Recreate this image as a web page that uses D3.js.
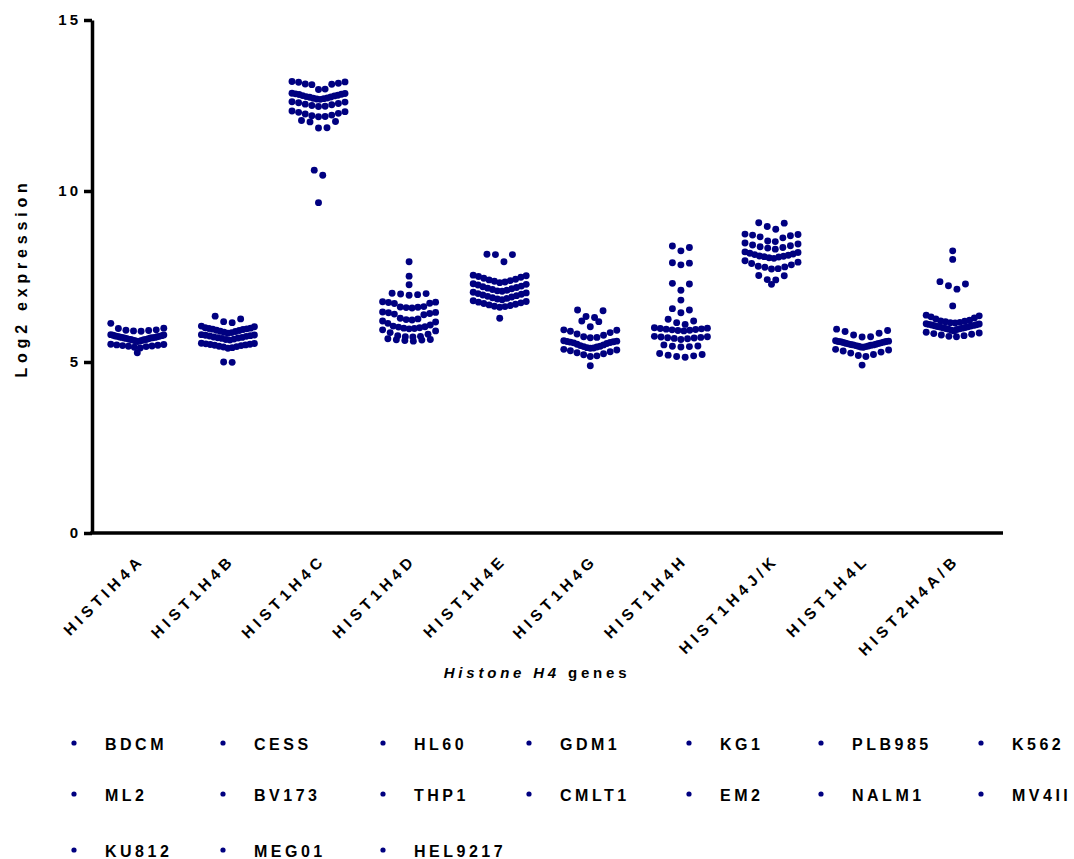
<!DOCTYPE html>
<html>
<head>
<meta charset="utf-8">
<script src="https://cdn.jsdelivr.net/npm/d3@7"></script>
<style>
  body { margin: 0; background: #fff; }
  svg { display: block; }
  text { font-family: "Liberation Sans", Arial, Helvetica, sans-serif; font-weight: bold; fill: #000; }
</style>
</head>
<body>
<svg id="chart" width="1074" height="859"></svg>
<script>
// Histone H4 genes on the x axis
const genes = ["HISTIH4A", "HIST1H4B", "HIST1H4C", "HIST1H4D", "HIST1H4E",
               "HIST1H4G", "HIST1H4H", "HIST1H4J/K", "HIST1H4L", "HIST2H4A/B"];

// Log2 expression values per gene (all cell lines and replicates)
const hist1h4a = [6.13, 5.99, 5.98, 5.94, 5.93, 5.92, 5.91, 5.90,
  5.80, 5.79, 5.78, 5.77, 5.76, 5.75, 5.75, 5.74, 5.73, 5.72, 5.72, 5.71, 5.70, 5.70,
  5.69, 5.68, 5.67, 5.66, 5.66, 5.65, 5.64, 5.63, 5.62, 5.61, 5.60,
  5.52, 5.51, 5.50, 5.49, 5.48, 5.47, 5.46, 5.45, 5.43, 5.41,
  5.27];
const hist1h4b = [6.34, 6.26, 6.18, 6.15,
  6.05, 6.03, 6.00, 5.99, 5.98, 5.97, 5.96, 5.95, 5.93, 5.92, 5.90, 5.89, 5.87, 5.86, 5.84,
  5.80, 5.79, 5.78, 5.77, 5.76, 5.75, 5.73, 5.72, 5.71, 5.70, 5.69, 5.67, 5.66, 5.64,
  5.55, 5.54, 5.53, 5.52, 5.51, 5.50, 5.49, 5.48, 5.46, 5.45, 5.44, 5.42, 5.40,
  5.00, 4.99];
const hist1h4c = [13.20, 13.19, 13.18, 13.15, 13.13, 13.12, 13.11, 12.98, 12.97,
  12.86, 12.85, 12.84, 12.83, 12.82, 12.80, 12.79, 12.78, 12.76, 12.75, 12.74, 12.72, 12.71, 12.70, 12.69, 12.68,
  12.61, 12.60, 12.58, 12.56, 12.54, 12.52, 12.50, 12.48, 12.47,
  12.34, 12.32, 12.30, 12.27, 12.25, 12.22, 12.20, 12.18, 12.17,
  12.06, 12.03, 12.02, 11.85, 11.84,
  10.61, 10.46, 9.66];
const hist1h4d = [7.93, 7.51, 7.26,
  7.01, 7.00, 6.99, 6.97, 6.95,
  6.76, 6.75, 6.74, 6.72, 6.71, 6.62, 6.61, 6.60, 6.59, 6.58,
  6.46, 6.45, 6.44, 6.42, 6.40, 6.38, 6.28, 6.26, 6.24, 6.23,
  6.20, 6.17, 6.13, 6.08, 6.05, 6.03, 6.02, 6.00, 5.99, 5.98, 5.97,
  5.94, 5.91, 5.86, 5.81, 5.77, 5.75, 5.74, 5.73,
  5.68, 5.66, 5.65, 5.64, 5.63, 5.61];
const hist1h4e = [8.15, 8.14, 8.14, 7.93,
  7.54, 7.52, 7.50, 7.48, 7.45, 7.42, 7.40, 7.38, 7.36, 7.34, 7.32,
  7.29, 7.27, 7.25, 7.22, 7.20, 7.18, 7.16, 7.14, 7.12, 7.10, 7.08, 7.07,
  7.04, 7.02, 7.00, 6.98, 6.96, 6.94, 6.92, 6.90, 6.88, 6.86, 6.84, 6.82,
  6.79, 6.77, 6.75, 6.73, 6.71, 6.69, 6.67, 6.65, 6.63, 6.62, 6.60,
  6.28];
const hist1h4g = [6.52, 6.50, 6.33, 6.30,
  6.20, 6.18, 6.03,
  5.94, 5.93, 5.90, 5.86, 5.82, 5.78, 5.74, 5.72, 5.71,
  5.62, 5.61, 5.60, 5.59, 5.58, 5.57, 5.56, 5.54, 5.52, 5.50, 5.48, 5.46, 5.45, 5.44, 5.42, 5.41, 5.40,
  5.37, 5.35, 5.33, 5.30, 5.27, 5.24, 5.21, 5.18, 5.16,
  4.89];
const hist1h4h = [8.39, 8.35, 8.25,
  7.90, 7.89, 7.84,
  7.30, 7.28, 7.10,
  6.81,
  6.56, 6.52, 6.44,
  6.25, 6.20, 6.15, 6.10,
  6.00, 5.99, 5.98, 5.97, 5.96, 5.95, 5.94, 5.93, 5.92, 5.91,
  5.75, 5.74, 5.73, 5.72, 5.71, 5.70, 5.69, 5.68, 5.66,
  5.50, 5.47, 5.46, 5.45, 5.44,
  5.25, 5.22, 5.20, 5.18, 5.16, 5.14];
const hist1h4jk = [9.07, 9.06, 8.96, 8.88,
  8.74, 8.73, 8.71, 8.69, 8.66, 8.63,
  8.54, 8.52, 8.48, 8.45, 8.42, 8.40, 8.37, 8.35, 8.33, 8.30,
  8.22, 8.20, 8.18, 8.16, 8.14, 8.12, 8.10, 8.09, 8.08, 8.07, 8.05, 8.03,
  7.96, 7.92, 7.88, 7.84, 7.80, 7.78, 7.77,
  7.73, 7.72, 7.53, 7.52,
  7.41, 7.40, 7.27];
const hist1h4l = [5.96, 5.92, 5.89, 5.84, 5.79, 5.74, 5.73,
  5.62, 5.61, 5.60, 5.60, 5.59, 5.58, 5.57, 5.56, 5.55, 5.54, 5.53, 5.52, 5.51, 5.50, 5.50,
  5.49, 5.48, 5.47, 5.46, 5.45, 5.44, 5.43,
  5.37, 5.35, 5.32, 5.29, 5.26, 5.22, 5.19, 5.16,
  4.91];
const hist2h4ab = [8.25, 8.00,
  7.35, 7.28, 7.23, 7.13,
  6.64,
  6.37, 6.35, 6.32, 6.29, 6.26, 6.22, 6.20, 6.19, 6.18, 6.16, 6.15, 6.14,
  6.12, 6.11, 6.10, 6.09, 6.08, 6.07, 6.06, 6.05, 6.04, 6.03, 6.02, 6.01, 6.00, 5.99, 5.98, 5.97,
  5.96, 5.95, 5.93, 5.91,
  5.87, 5.85, 5.83, 5.81, 5.79, 5.77, 5.75, 5.74];

const expression = [hist1h4a, hist1h4b, hist1h4c, hist1h4d, hist1h4e,
                    hist1h4g, hist1h4h, hist1h4jk, hist1h4l, hist2h4ab];

// Cell lines listed in the legend
const cellLines = ["BDCM", "CESS", "HL60", "GDM1", "KG1", "PLB985", "K562",
                   "ML2", "BV173", "THP1", "CMLT1", "EM2", "NALM1", "MV4II",
                   "KU812", "MEG01", "HEL9217"];

const yTicks = [0, 5, 10, 15];

const DOT = "#000080";
const svg = d3.select("#chart");

const x = d3.scaleBand().domain(genes).range([92, 998]).padding(0);
const y = d3.scaleLinear().domain([0, 15]).range([533, 20]);

// ---- scatter columns: points grouped into rows, spread sideways ----
const ROW_SPAN = 0.24;   // value range sharing one row
const STEP = 8.5;        // horizontal spacing between neighbours
const MAX_W = 53;        // widest a row may spread (centre to centre)

function swarm(values, cx) {
  const sorted = values.slice().sort((a, b) => b - a);
  const rows = [];
  let cur = null;
  sorted.forEach(v => {
    if (!cur || cur.top - v > ROW_SPAN + 1e-9) { cur = { top: v, vals: [] }; rows.push(cur); }
    cur.vals.push(v);
  });
  const pts = [];
  rows.forEach(r => {
    const vals = r.vals.slice().sort((a, b) => a - b);
    const n = vals.length;
    const s = n > 1 ? Math.min(STEP, MAX_W / (n - 1)) : 0;
    const slots = d3.range(n).map(i => i - (n - 1) / 2)
      .sort((a, b) => Math.abs(a) - Math.abs(b) || b - a);
    vals.forEach((v, i) => pts.push({ v, px: cx + slots[i] * s }));
  });
  return pts;
}

const cols = svg.append("g").attr("class", "columns");
genes.forEach((g, gi) => {
  const cx = x(g) + x.bandwidth() / 2;
  cols.append("g").selectAll("circle")
    .data(swarm(expression[gi], cx))
    .join("circle")
    .attr("cx", d => d.px)
    .attr("cy", d => y(d.v))
    .attr("r", 3.45)
    .attr("fill", DOT);
});

// ---- axes ----
const yAxis = svg.append("g")
  .attr("transform", "translate(92,0)")
  .call(d3.axisLeft(y).tickValues(yTicks).tickSize(8).tickSizeOuter(0).tickPadding(6).tickFormat(d3.format("d")));
yAxis.select(".domain").attr("stroke", "#000").attr("stroke-width", 3.5);
yAxis.selectAll(".tick line").attr("stroke", "#000").attr("stroke-width", 3.5);
yAxis.selectAll(".tick text")
  .attr("font-size", 15).attr("letter-spacing", "3px")
  .attr("font-family", "'Liberation Sans', Arial, sans-serif").attr("font-weight", "bold")
  .attr("dx", "3px");

const xAxis = svg.append("g")
  .attr("transform", "translate(0,533)")
  .call(d3.axisBottom(x).tickSize(0).tickPadding(0));
xAxis.select(".domain").remove();
svg.append("line")
  .attr("x1", x.range()[0] - 1.75).attr("x2", x.range()[1] + 5)
  .attr("y1", y(0)).attr("y2", y(0))
  .attr("stroke", "#000").attr("stroke-width", 3.5);
xAxis.selectAll(".tick text")
  .attr("font-size", 15.5).attr("letter-spacing", "4.5px")
  .attr("font-family", "'Liberation Sans', Arial, sans-serif").attr("font-weight", "bold")
  .attr("text-anchor", "end")
  .attr("dy", null)
  .attr("transform", "translate(8,28) rotate(-45)");

// axis titles
svg.append("text")
  .attr("transform", "translate(27,278) rotate(-90)")
  .attr("text-anchor", "middle")
  .attr("font-size", 16).attr("letter-spacing", "4.8px")
  .text("Log2 expression");

const xt = svg.append("text")
  .attr("x", 537).attr("y", 678)
  .attr("text-anchor", "middle")
  .attr("font-size", 15).attr("letter-spacing", "3.8px");
xt.append("tspan").attr("font-style", "italic").text("Histone H4");
xt.append("tspan").text(" genes");

// ---- legend ----
const legendCols = [74, 223, 383, 529, 689, 821, 981];
const legendRows = [744, 795, 851];
const legend = svg.append("g").attr("class", "legend");
cellLines.forEach((name, i) => {
  const cx = legendCols[i % 7], cy = legendRows[Math.floor(i / 7)];
  legend.append("circle").attr("cx", cx).attr("cy", cy - 1).attr("r", 2.6).attr("fill", DOT);
  legend.append("text").attr("x", cx + 31).attr("y", cy + 6)
    .attr("font-size", 16).attr("letter-spacing", "3.5px").text(name);
});
</script>
</body>
</html>
